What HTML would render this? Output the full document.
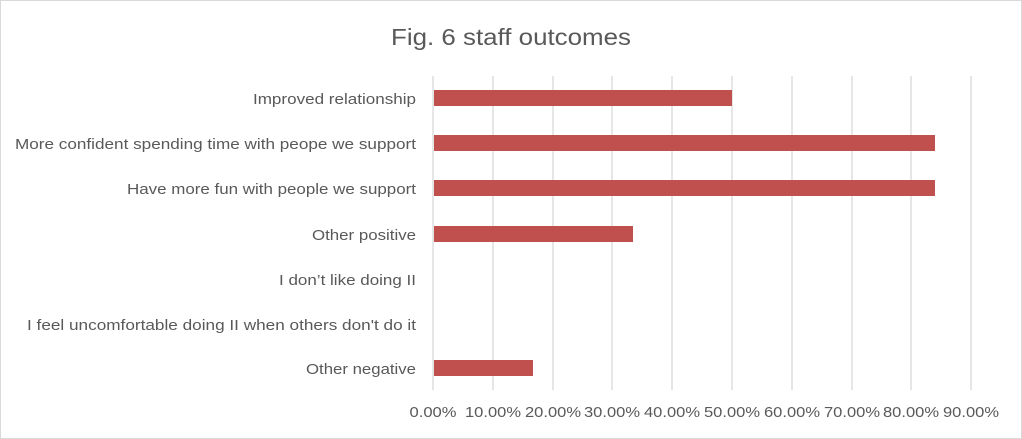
<!DOCTYPE html>
<html><head><style>
body{margin:0;background:#fff;}
svg{display:block;font-family:"Liberation Sans",sans-serif;}
</style></head><body>
<svg width="1022" height="439" xmlns="http://www.w3.org/2000/svg">
<rect x="0.5" y="0.5" width="1021" height="438" fill="#fff" stroke="#d9d9d9"/>
<text x="391" y="45" font-size="23" fill="#595959" textLength="240" lengthAdjust="spacingAndGlyphs">Fig. 6 staff outcomes</text>
<g stroke="#d9d9d9" stroke-width="1.3">
<line x1="433" y1="76" x2="433" y2="390"/>
<line x1="493" y1="76" x2="493" y2="390"/>
<line x1="553" y1="76" x2="553" y2="390"/>
<line x1="612" y1="76" x2="612" y2="390"/>
<line x1="672" y1="76" x2="672" y2="390"/>
<line x1="732" y1="76" x2="732" y2="390"/>
<line x1="792" y1="76" x2="792" y2="390"/>
<line x1="852" y1="76" x2="852" y2="390"/>
<line x1="911" y1="76" x2="911" y2="390"/>
<line x1="971" y1="76" x2="971" y2="390"/>
</g>
<g fill="#c0504d">
<rect x="434" y="90" width="298" height="16"/>
<rect x="434" y="135" width="501" height="16"/>
<rect x="434" y="180" width="501" height="16"/>
<rect x="434" y="226" width="199" height="16"/>
<rect x="434" y="360" width="99" height="16"/>
</g>
<g font-size="15" fill="#595959">
<text x="253" y="104" textLength="163" lengthAdjust="spacingAndGlyphs">Improved relationship</text>
<text x="15" y="149" textLength="401" lengthAdjust="spacingAndGlyphs">More confident spending time with peope we support</text>
<text x="127" y="194" textLength="289" lengthAdjust="spacingAndGlyphs">Have more fun with people we support</text>
<text x="312" y="240" textLength="104" lengthAdjust="spacingAndGlyphs">Other positive</text>
<text x="279" y="285" textLength="137" lengthAdjust="spacingAndGlyphs">I don’t like doing II</text>
<text x="27" y="330" textLength="389" lengthAdjust="spacingAndGlyphs">I feel uncomfortable doing II when others don't do it</text>
<text x="306" y="374" textLength="110" lengthAdjust="spacingAndGlyphs">Other negative</text>
</g>
<g font-size="15" fill="#595959" text-anchor="middle">
<text x="433" y="417" textLength="47" lengthAdjust="spacingAndGlyphs">0.00%</text>
<text x="493" y="417" textLength="56" lengthAdjust="spacingAndGlyphs">10.00%</text>
<text x="553" y="417" textLength="56" lengthAdjust="spacingAndGlyphs">20.00%</text>
<text x="612" y="417" textLength="56" lengthAdjust="spacingAndGlyphs">30.00%</text>
<text x="672" y="417" textLength="56" lengthAdjust="spacingAndGlyphs">40.00%</text>
<text x="732" y="417" textLength="56" lengthAdjust="spacingAndGlyphs">50.00%</text>
<text x="792" y="417" textLength="56" lengthAdjust="spacingAndGlyphs">60.00%</text>
<text x="852" y="417" textLength="56" lengthAdjust="spacingAndGlyphs">70.00%</text>
<text x="911" y="417" textLength="56" lengthAdjust="spacingAndGlyphs">80.00%</text>
<text x="971" y="417" textLength="56" lengthAdjust="spacingAndGlyphs">90.00%</text>
</g>
</svg>
</body></html>
